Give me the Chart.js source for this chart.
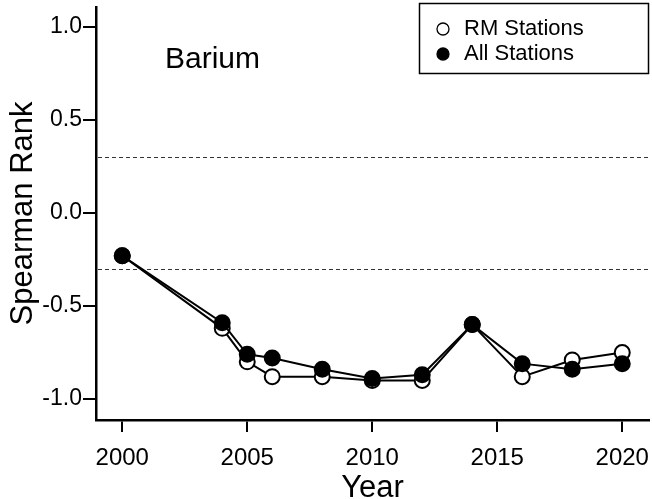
<!DOCTYPE html>
<html>
<head>
<meta charset="utf-8">
<script src="https://cdn.jsdelivr.net/npm/chart.js@4.4.1/dist/chart.umd.min.js"></script>
<style>
  html, body { margin: 0; padding: 0; background: #fff; }
  #wrap { width: 652px; height: 499px; position: relative; }
</style>
</head>
<body>
<div id="wrap"><canvas id="chart"></canvas></div>
<script>
const years = [2000, 2004, 2005, 2006, 2008, 2010, 2012, 2014, 2016, 2018, 2020];
const rmStations = [-0.23, -0.62, -0.80, -0.88, -0.88, -0.90, -0.90, -0.60, -0.88, -0.79, -0.75];
const allStations = [-0.23, -0.59, -0.76, -0.78, -0.84, -0.89, -0.87, -0.60, -0.81, -0.84, -0.81];
const xTicks = [2000, 2005, 2010, 2015, 2020];
const yTicks = [-1.0, -0.5, 0.0, 0.5, 1.0];
const refLines = [0.3, -0.3];
const panelLabel = "Barium";

const FONT = "'Liberation Sans', Arial, sans-serif";

const toPoints = (vals) => years.map((yr, i) => ({ x: yr, y: vals[i] }));

// dashed reference lines + panel label
const extras = {
  id: "extras",
  beforeDatasetsDraw(chart) {
    const { ctx, chartArea, scales } = chart;
    ctx.save();
    ctx.strokeStyle = "#333";
    ctx.lineWidth = 1;
    ctx.setLineDash([4, 3]);
    refLines.forEach((v) => {
      const y = Math.round(scales.y.getPixelForValue(v)) + 0.5;
      ctx.beginPath();
      ctx.moveTo(chartArea.left + 2, y);
      ctx.lineTo(chartArea.right, y);
      ctx.stroke();
    });
    ctx.setLineDash([]);
    ctx.fillStyle = "#000";
    ctx.font = "30px " + FONT;
    ctx.textBaseline = "alphabetic";
    ctx.fillText(panelLabel, chartArea.left + 69, chartArea.top + 61);
    ctx.restore();
  },
};

// boxed legend in the top right corner
const boxLegend = {
  id: "boxLegend",
  afterDraw(chart) {
    const { ctx } = chart;
    ctx.save();
    ctx.strokeStyle = "#000";
    ctx.lineWidth = 1.5;
    ctx.strokeRect(419.5, 3.5, 229, 70);
    ctx.font = "22px " + FONT;
    ctx.textBaseline = "middle";
    chart.data.datasets.forEach((ds, i) => {
      const cy = 29 + i * 25;
      ctx.beginPath();
      ctx.arc(443, cy, 6, 0, Math.PI * 2);
      ctx.fillStyle = ds.pointBackgroundColor;
      ctx.fill();
      ctx.lineWidth = 1.3;
      ctx.strokeStyle = "#000";
      ctx.stroke();
      ctx.fillStyle = "#000";
      ctx.fillText(ds.label, 464, cy);
    });
    ctx.restore();
  },
};

new Chart(document.getElementById("chart"), {
  type: "line",
  data: {
    datasets: [
      {
        label: "RM Stations",
        data: toPoints(rmStations),
        borderColor: "#000",
        borderWidth: 2,
        pointBackgroundColor: "#fff",
        pointBorderColor: "#000",
        pointBorderWidth: 2,
        pointRadius: 7.5,
        order: 1,
      },
      {
        label: "All Stations",
        data: toPoints(allStations),
        borderColor: "#000",
        borderWidth: 2,
        pointBackgroundColor: "#000",
        pointBorderColor: "#000",
        pointBorderWidth: 2,
        pointRadius: 7.5,
        order: 0,
      },
    ],
  },
  options: {
    responsive: true,
    maintainAspectRatio: false,
    animation: false,
    layout: { autoPadding: false, padding: { top: 7, right: 3, left: 0, bottom: 0 } },
    plugins: {
      legend: { display: false },
      tooltip: { enabled: false },
    },
    elements: { line: { tension: 0 } },
    scales: {
      x: {
        type: "linear",
        min: 1998.95,
        max: 2021.07,
        afterFit: (s) => { s.height = 79; s.paddingLeft = 0; s.paddingRight = 0; },
        afterBuildTicks: (s) => { s.ticks = xTicks.map((v) => ({ value: v })); },
        border: { display: true, color: "#000", width: 2.5 },
        grid: { drawOnChartArea: false, drawTicks: true, tickLength: 12, color: "#000", lineWidth: 2 },
        ticks: {
          color: "#000",
          font: { family: FONT, size: 24 },
          padding: 12,
          maxRotation: 0,
          callback: (v) => String(v),
        },
        title: {
          display: true,
          text: "Year",
          color: "#000",
          font: { family: FONT, size: 31, lineHeight: 1 },
          padding: { top: 0, bottom: -5 },
        },
      },
      y: {
        min: -1.113,
        max: 1.108,
        afterFit: (s) => { s.width = 96; s.paddingTop = 0; s.paddingBottom = 0; },
        afterBuildTicks: (s) => { s.ticks = yTicks.map((v) => ({ value: v })); },
        border: { display: true, color: "#000", width: 2.5 },
        grid: { drawOnChartArea: false, drawTicks: true, tickLength: 13, color: "#000", lineWidth: 2 },
        ticks: {
          color: "#000",
          font: { family: FONT, size: 23 },
          padding: 1,
          callback: (v) => v.toFixed(1),
        },
        title: {
          display: true,
          text: "Spearman Rank",
          color: "#000",
          font: { family: FONT, size: 31, lineHeight: 1 },
          padding: { top: 8, bottom: 0 },
        },
      },
    },
  },
  plugins: [extras, boxLegend],
});
</script>
</body>
</html>
